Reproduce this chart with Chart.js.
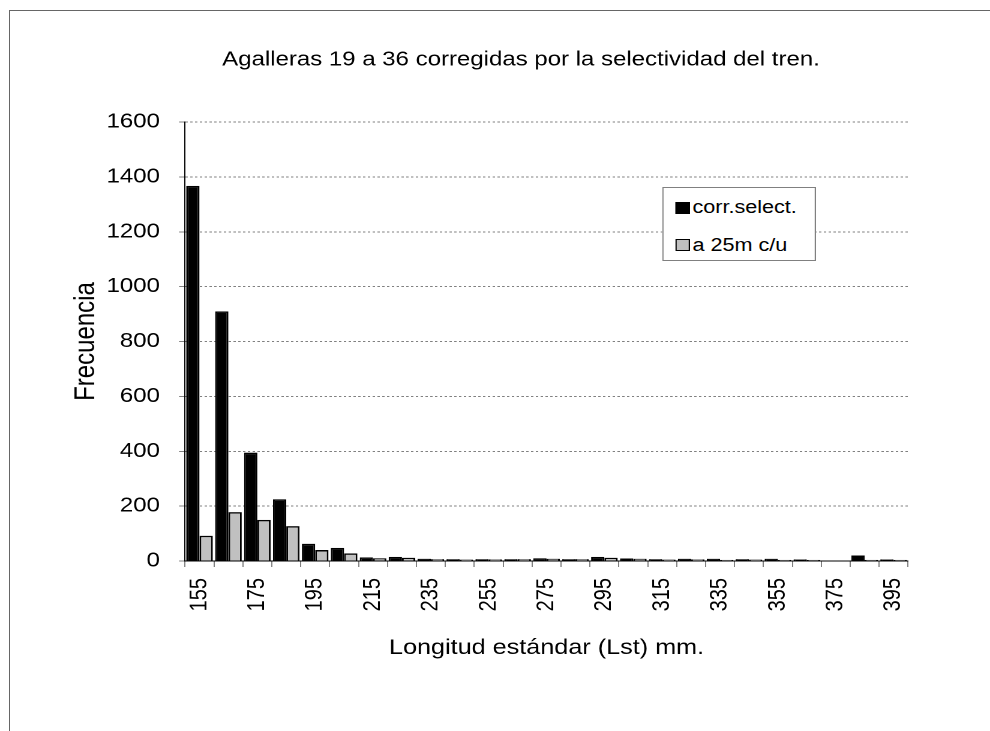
<!DOCTYPE html>
<html>
<head>
<meta charset="utf-8">
<script src="https://cdn.jsdelivr.net/npm/chart.js@4/dist/chart.umd.min.js"></script>
<style>
  html, body { margin: 0; padding: 0; background: #fff; overflow: hidden; width: 990px; height: 731px; }
  #frame { position: absolute; left: 9px; top: 10px; width: 1200px; height: 1000px;
           border-left: 1px solid #666; border-top: 1px solid #666; }
  #wrap { position: absolute; left: 0; top: 0; width: 825px; height: 731px;
          transform: scaleX(1.2); transform-origin: 0 0; }
  #chart { position: absolute; left: 0; top: 0; width: 825px; height: 731px; }
  #legend { position: absolute; left: 551.7px; top: 187px; width: 128.3px; height: 74px;
            box-sizing: border-box; border: 1px solid #808080; background: #fff;
            font-family: "Liberation Sans", Arial, sans-serif; font-size: 18px; color: #000; }
  .row { position: absolute; left: 10.8px; height: 20px; display: flex; align-items: center; }
  .mark { width: 12px; height: 12px; box-sizing: border-box; margin-right: 1.5px; }
</style>
</head>
<body>
<div id="frame"></div>
<div id="wrap">
  <canvas id="chart" width="825" height="731"></canvas>
  <div id="legend"></div>
</div>
<script>
// ---- data ----
const categories = ['155','165','175','185','195','205','215','225','235','245','255','265','275','285','295','305','315','325','335','345','355','365','375','385','395'];
const xTickLabels = ['155','175','195','215','235','255','275','295','315','335','355','375','395'];
const corrSelect = [1367, 910, 395, 225, 63, 48, 13, 15, 8, 7, 7, 7, 10, 7, 15, 9, 7, 8, 8, 7, 8, 6, 0, 20, 6];
const a25m = [92, 178, 150, 127, 40, 28, 10, 12, 7, 5, 6, 7, 8, 7, 12, 8, 5, 6, 4, 5, 4, 4, 0, 4, 4];
const seriesNames = ['corr.select.', 'a 25m c/u'];
const yTicks = [0, 200, 400, 600, 800, 1000, 1200, 1400, 1600];

const FONT = '"Liberation Sans", Arial, sans-serif';

const datasets = [
  { label: seriesNames[0], data: corrSelect, backgroundColor: '#000000', borderColor: '#000000', borderWidth: 1.5 },
  { label: seriesNames[1], data: a25m, backgroundColor: '#C0C0C0', borderColor: '#000000', borderWidth: 1.5 }
];

const chart = new Chart(document.getElementById('chart'), {
  type: 'bar',
  data: { labels: categories, datasets: datasets },
  options: {
    responsive: false,
    devicePixelRatio: 2,
    animation: false,
    layout: { padding: { left: 43.3, right: 0, top: 0, bottom: 0 } },
    datasets: { bar: { categoryPercentage: 0.92, barPercentage: 1.0 } },
    plugins: {
      legend: { display: false },
      tooltip: { enabled: false },
      title: {
        display: true,
        text: 'Agalleras 19 a 36 corregidas por la selectividad del tren.',
        color: '#000',
        font: { family: FONT, size: 20, weight: 'normal' },
        padding: { top: 48, bottom: 50 }
      }
    },
    scales: {
      x: {
        type: 'category',
        offset: true,
        grid: { display: true, drawOnChartArea: false, drawTicks: true, offset: true,
                tickLength: 6, tickColor: '#808080', tickWidth: 1 },
        border: { display: true, color: '#000', width: 1 },
        ticks: {
          autoSkip: false, minRotation: 90, maxRotation: 90, padding: 11,
          color: '#000', font: { family: FONT, size: 20 },
          callback: function (v, i) { const l = categories[i]; return xTickLabels.includes(l) ? l : ''; }
        },
        title: { display: true, text: 'Longitud estándar (Lst) mm.', color: '#000',
                 font: { family: FONT, size: 21 }, padding: { top: 0, bottom: 70.4 } },
        afterFit: function (s) { s.height = 170; }
      },
      y: {
        min: 0, max: 1600,
        afterBuildTicks: function (s) { s.ticks = yTicks.map(v => ({ value: v })); },
        grid: { color: '#808080', lineWidth: 1, drawTicks: true, tickLength: 5,
                tickColor: '#808080', tickBorderDash: [] },
        border: { display: true, color: '#000', width: 1, dash: [2, 2] },
        ticks: { padding: 15.9, color: '#000', font: { family: FONT, size: 20 },
                 callback: function (v) { return String(v); } },
        title: { display: true, text: 'Frecuencia', color: '#000',
                 font: { family: FONT, size: 24 }, padding: { top: 14, bottom: 0 } },
        afterFit: function (s) { s.width = 110.9; }
      },
      yRight: {
        type: 'linear', axis: 'y', position: 'right', display: true,
        grid: { display: false }, border: { display: false }, ticks: { display: false },
        afterFit: function (s) { s.width = 68.3; }
      }
    }
  }
});

// HTML legend built from the datasets
const legend = document.getElementById('legend');
const rowTops = [9.5, 47];
datasets.forEach(function (ds, i) {
  const row = document.createElement('div');
  row.className = 'row';
  row.style.top = rowTops[i] + 'px';
  const m = document.createElement('span');
  m.className = 'mark';
  m.style.background = ds.backgroundColor;
  m.style.border = '1.5px solid ' + ds.borderColor;
  const t = document.createElement('span');
  t.textContent = ds.label;
  row.appendChild(m); row.appendChild(t);
  legend.appendChild(row);
});
</script>
</body>
</html>
